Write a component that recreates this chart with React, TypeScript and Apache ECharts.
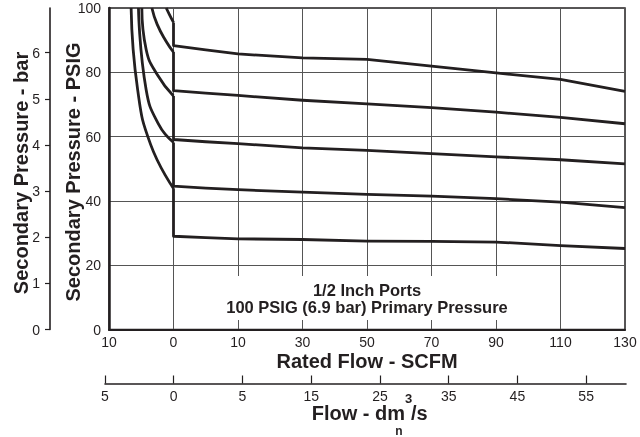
import React, { useEffect, useRef } from "react";
import * as echarts from "echarts";

// Axis tick labels
const flowTickLabels = ["10", "0", "10", "30", "50", "70", "90", "110", "130"];
const dmTickLabels = ["5", "0", "5", "15", "25", "35", "45", "55"];
const dmTickValues = [0, 1, 2, 3, 4, 5, 6, 7];
const barTickValues = [0, 1, 2, 3, 4, 5, 6];

// Forward-flow (SCFM) part of each curve
const rightFlows = [0, 5, 10, 30, 50, 70, 90, 110, 130];
const curve1 = [88.3, 87.0, 85.7, 84.5, 84.0, 81.9, 79.8, 77.8, 74.1];
const curve2 = [74.3, 73.5, 72.8, 71.3, 70.2, 69.0, 67.6, 66.0, 64.0];
const curve3 = [59.1, 58.4, 57.8, 56.5, 55.7, 54.7, 53.7, 52.8, 51.5];
const curve4 = [44.6, 44.0, 43.5, 42.7, 42.0, 41.5, 40.7, 39.6, 37.9];
const curve5 = [29.0, 28.6, 28.2, 28.0, 27.5, 27.4, 27.2, 26.1, 25.2];

// Reverse-flow (relief) part of each curve: flow (negative SCFM) and PSIG
const left1Flow = [-1.13, -0.59, 0];
const left1Psig = [100, 97.8, 95.5];
const left2Flow = [-3.35, -2.53, -1.13, 0];
const left2Psig = [100, 94.9, 89.6, 86.3];
const left3Flow = [-4.91, -4.24, -2.53, 0];
const left3Psig = [100, 87.1, 79.3, 72.6];
const left4Flow = [-5.43, -4.24, -2.3, 0];
const left4Psig = [100, 74.6, 63.8, 58.2];
const left5Flow = [-6.57, -5.56, -3.54, 0];
const left5Psig = [100, 74.6, 57.5, 43.9];

const INK = "#231f20";
const FONT = "'Liberation Sans', Arial, Helvetica, sans-serif";

// Chart's x scale: -10..0..10 in steps of 10, then 10..130 in steps of 20
function flowToPos(f: number): number {
  return f <= 10 ? 1 + f / 10 : 2 + (f - 10) / 20;
}

const lefts = [
  [left1Flow, left1Psig],
  [left2Flow, left2Psig],
  [left3Flow, left3Psig],
  [left4Flow, left4Psig],
  [left5Flow, left5Psig],
];
const rights = [curve1, curve2, curve3, curve4, curve5];

export default function App() {
  const ref = useRef<HTMLDivElement>(null);
  useEffect(() => {
    if (!ref.current) return;
    const chart = echarts.init(ref.current, undefined, { renderer: "svg" });
    const lineStyle = { color: INK, width: 2.8 };
    const series: any[] = [];
    lefts.forEach(([fl, ps], k) => {
      series.push({
        type: "line",
        xAxisIndex: 0,
        yAxisIndex: 0,
        data: fl.map((f, i) => [flowToPos(f), ps[i]]),
        smooth: 0.5,
        symbol: "none",
        lineStyle,
      });
      const endP = ps[ps.length - 1];
      series.push({
        type: "line",
        xAxisIndex: 0,
        yAxisIndex: 0,
        data: [[flowToPos(0), endP], ...rightFlows.map((f, i) => [flowToPos(f), rights[k][i]])],
        smooth: false,
        symbol: "none",
        lineStyle: { ...lineStyle, join: "round" },
      });
    });

    const textStyle = (text: string, size: number, align = "center") => ({
      text,
      font: `bold ${size}px ${FONT}`,
      fill: INK,
      textAlign: align,
      textVerticalAlign: "middle",
    });

    chart.setOption({
      animation: false,
      grid: [
        { left: 109, width: 516, top: 8, height: 321.5, show: true, borderColor: INK, borderWidth: 1.5, backgroundColor: "transparent" },
        { left: 105, width: 521, top: 300, height: 83.5 },
      ],
      xAxis: [
        {
          type: "value",
          gridIndex: 0,
          min: 0,
          max: 8,
          interval: 1,
          axisLine: { show: true, lineStyle: { color: INK, width: 2.2 } },
          axisTick: { show: false },
          axisLabel: {
            formatter: (v: number) => flowTickLabels[Math.round(v)] ?? "",
            fontSize: 14,
            color: INK,
            margin: 5,
            fontFamily: FONT,
            showMinLabel: true,
            showMaxLabel: true,
          },
          splitLine: { show: true, lineStyle: { color: "#555555", width: 1 } },
        },
        {
          type: "value",
          gridIndex: 1,
          min: 0,
          max: 7.58,
          interval: 1,
          axisLine: { show: true, lineStyle: { color: INK, width: 1.6 } },
          axisTick: { show: true, inside: true, length: 8, customValues: dmTickValues, lineStyle: { color: INK, width: 1.2 } },
          axisLabel: {
            customValues: dmTickValues,
            formatter: (v: number) => dmTickLabels[Math.round(v)] ?? "",
            fontSize: 14,
            color: INK,
            margin: 5,
            fontFamily: FONT,
          },
          splitLine: { show: false },
        },
      ],
      yAxis: [
        {
          type: "value",
          gridIndex: 0,
          min: 0,
          max: 100,
          interval: 20,
          axisLine: { show: true, lineStyle: { color: INK, width: 2.5 } },
          axisTick: { show: false },
          axisLabel: { fontSize: 14, color: INK, margin: 8, fontFamily: FONT },
          splitLine: { show: true, lineStyle: { color: "#555555", width: 1 } },
        },
        {
          type: "value",
          gridIndex: 0,
          position: "left",
          offset: 59,
          min: 0,
          max: 6.97,
          interval: 1,
          axisLine: { show: true, lineStyle: { color: INK, width: 1.6 } },
          axisTick: { show: true, length: 5, customValues: barTickValues, lineStyle: { color: INK, width: 1.2 } },
          axisLabel: { customValues: barTickValues, fontSize: 14, color: INK, margin: 10, fontFamily: FONT },
          splitLine: { show: false },
        },
        { type: "value", gridIndex: 1, show: false, min: 0, max: 1 },
      ],
      series,
      graphic: [
        { type: "rect", z: 50, shape: { x: 195, y: 276, width: 350, height: 44 }, style: { fill: "#ffffff" } },
        { type: "text", z: 51, x: 367, y: 290, style: textStyle("1/2 Inch Ports", 16.5) },
        { type: "text", z: 51, x: 367, y: 307, style: textStyle("100 PSIG (6.9 bar) Primary Pressure", 16.5) },
        { type: "text", z: 51, x: 367, y: 360.5, style: textStyle("Rated Flow - SCFM", 20) },
        { type: "text", z: 51, x: 405, y: 413, style: textStyle("Flow - dm", 20, "right") },
        { type: "text", z: 51, x: 405, y: 398, style: textStyle("3", 13, "left") },
        { type: "text", z: 51, x: 411, y: 413, style: textStyle("/s", 20, "left") },
        { type: "text", z: 51, x: 399, y: 430.5, style: textStyle("n", 12) },
        { type: "text", z: 51, x: 73, y: 172, rotation: Math.PI / 2, style: textStyle("Secondary Pressure - PSIG", 20) },
        { type: "text", z: 51, x: 21, y: 173, rotation: Math.PI / 2, style: textStyle("Secondary Pressure - bar", 20) },
      ],
    });
    return () => chart.dispose();
  }, []);
  return <div ref={ref} style={{ position: "fixed", left: 0, top: 0, width: 640, height: 437 }} />;
}
